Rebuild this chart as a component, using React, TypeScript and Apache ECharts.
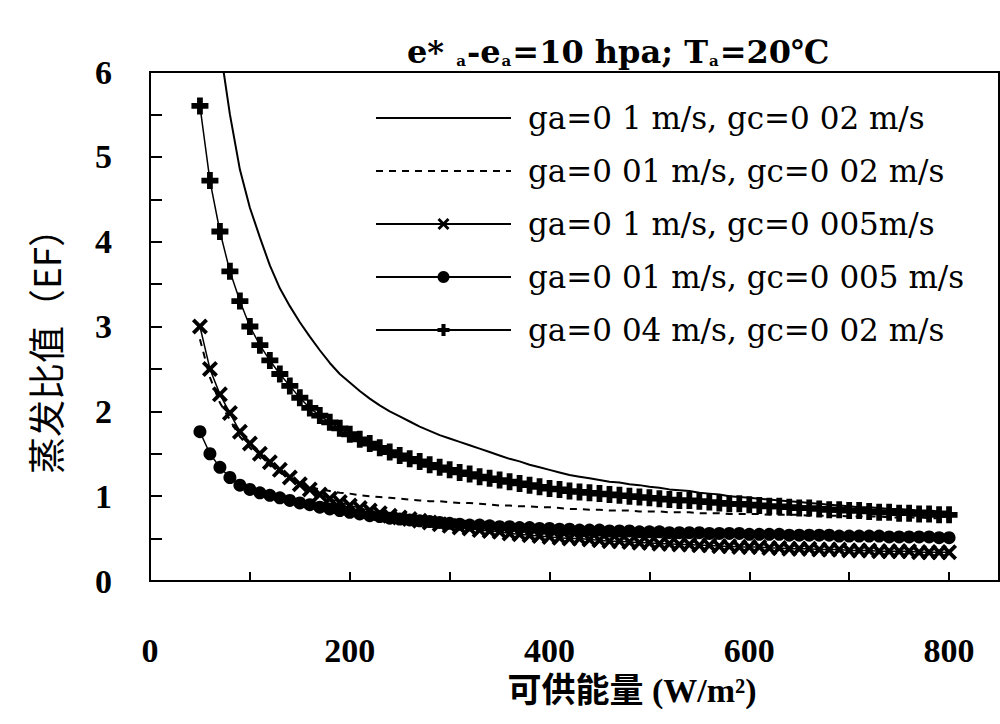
import React, { useEffect, useRef } from "react";
import * as echarts from "echarts";

// x positions (available energy, W/m2)
const xValues = [
  50, 60, 70, 80, 90, 100, 110, 120, 130, 140,
  150, 160, 170, 180, 190, 200, 210, 220, 230, 240,
  250, 260, 270, 280, 290, 300, 310, 320, 330, 340,
  350, 360, 370, 380, 390, 400, 410, 420, 430, 440,
  450, 460, 470, 480, 490, 500, 510, 520, 530, 540,
  550, 560, 570, 580, 590, 600, 610, 620, 630, 640,
  650, 660, 670, 680, 690, 700, 710, 720, 730, 740,
  750, 760, 770, 780, 790, 800,
];

// ga=0.1, gc=0.02 (solid)
const efSolid = [
  9.2, 7.4, 6.3, 5.5, 4.85, 4.4, 4.05, 3.72, 3.45, 3.24,
  3.05, 2.88, 2.72, 2.57, 2.44, 2.34, 2.24, 2.15, 2.07, 2.0,
  1.94, 1.88, 1.82, 1.77, 1.72, 1.68, 1.64, 1.6, 1.56, 1.52,
  1.48, 1.44, 1.41, 1.37, 1.34, 1.31, 1.28, 1.25, 1.23, 1.21,
  1.19, 1.17, 1.16, 1.14, 1.13, 1.11, 1.1, 1.08, 1.07, 1.06,
  1.04, 1.03, 1.02, 1.0, 0.99, 0.98, 0.97, 0.96, 0.95, 0.94,
  0.93, 0.92, 0.91, 0.9, 0.89, 0.88, 0.87, 0.87, 0.86, 0.85,
  0.85, 0.84, 0.83, 0.83, 0.82, 0.82,
];

// ga=0.01, gc=0.02 (dashed)
const efDashed = [
  2.85, 2.4, 2.1, 1.9, 1.7, 1.57, 1.45, 1.36, 1.28, 1.2,
  1.14, 1.11, 1.08, 1.06, 1.04, 1.03, 1.01, 1.0, 0.99, 0.98,
  0.97, 0.96, 0.95, 0.94, 0.94, 0.93, 0.92, 0.92, 0.91, 0.9,
  0.89, 0.89, 0.88, 0.88, 0.87, 0.87, 0.86, 0.85, 0.85, 0.84,
  0.84, 0.83, 0.83, 0.83, 0.82, 0.82, 0.82, 0.81, 0.81, 0.81,
  0.8, 0.8, 0.8, 0.79, 0.79, 0.79, 0.79, 0.78, 0.78, 0.78,
  0.78, 0.77, 0.77, 0.77, 0.77, 0.76, 0.76, 0.76, 0.76, 0.75,
  0.75, 0.75, 0.75, 0.74, 0.74, 0.74,
];

// ga=0.1, gc=0.005 (x markers)
const efCross = [
  3.0, 2.5, 2.2, 1.98, 1.76, 1.62, 1.5, 1.4, 1.31, 1.22,
  1.14, 1.08, 1.02, 0.97, 0.93, 0.89, 0.86, 0.83, 0.8, 0.77,
  0.75, 0.73, 0.71, 0.69, 0.67, 0.65, 0.63, 0.62, 0.6, 0.59,
  0.58, 0.56, 0.55, 0.54, 0.53, 0.52, 0.51, 0.5, 0.5, 0.49,
  0.48, 0.47, 0.47, 0.46, 0.45, 0.45, 0.44, 0.44, 0.43, 0.43,
  0.42, 0.42, 0.41, 0.41, 0.4, 0.4, 0.4, 0.39, 0.39, 0.38,
  0.38, 0.38, 0.37, 0.37, 0.37, 0.36, 0.36, 0.36, 0.35, 0.35,
  0.35, 0.35, 0.34, 0.34, 0.34, 0.34,
];

// ga=0.01, gc=0.005 (circles)
const efCircle = [
  1.76, 1.5, 1.34, 1.22, 1.13, 1.08, 1.04, 1.01, 0.98, 0.95,
  0.92, 0.9, 0.87, 0.85, 0.83, 0.81, 0.79, 0.77, 0.76, 0.74,
  0.73, 0.72, 0.71, 0.7, 0.69, 0.68, 0.67, 0.66, 0.66, 0.65,
  0.64, 0.64, 0.63, 0.63, 0.62, 0.62, 0.61, 0.61, 0.6, 0.6,
  0.6, 0.59, 0.59, 0.59, 0.58, 0.58, 0.58, 0.57, 0.57, 0.57,
  0.57, 0.56, 0.56, 0.56, 0.56, 0.55, 0.55, 0.55, 0.55, 0.54,
  0.54, 0.54, 0.54, 0.54, 0.53, 0.53, 0.53, 0.53, 0.53, 0.52,
  0.52, 0.52, 0.52, 0.52, 0.51, 0.51,
];

// ga=0.04, gc=0.02 (plus markers)
const efPlus = [
  5.6, 4.72, 4.12, 3.65, 3.3, 3.0, 2.78, 2.6, 2.44, 2.3,
  2.16, 2.04, 1.95, 1.87, 1.8, 1.73, 1.67, 1.62, 1.57, 1.52,
  1.48, 1.44, 1.41, 1.37, 1.34, 1.31, 1.28, 1.26, 1.23, 1.21,
  1.19, 1.17, 1.15, 1.13, 1.11, 1.09, 1.08, 1.06, 1.05, 1.04,
  1.03, 1.02, 1.01, 1.0, 0.99, 0.98, 0.97, 0.96, 0.95, 0.95,
  0.94, 0.93, 0.92, 0.91, 0.91, 0.9, 0.89, 0.88, 0.88, 0.87,
  0.86, 0.86, 0.85, 0.84, 0.84, 0.83, 0.83, 0.82, 0.81, 0.81,
  0.8, 0.8, 0.79, 0.79, 0.78, 0.78,
];

const seriesNames = [
  "ga=0 1 m/s, gc=0 02 m/s",
  "ga=0 01 m/s, gc=0 02 m/s",
  "ga=0 1 m/s, gc=0 005m/s",
  "ga=0 01 m/s, gc=0 005 m/s",
  "ga=0 04 m/s, gc=0 02 m/s",
];

const xTickLabels = [0, 200, 400, 600, 800];
const yTickLabels = [0, 1, 2, 3, 4, 5, 6];

const CROSS_PATH = "path://M0,1.7L1.7,0L5,3.3L8.3,0L10,1.7L6.7,5L10,8.3L8.3,10L5,6.7L1.7,10L0,8.3L3.3,5Z";
const PLUS_PATH = "path://M3.3,0H6.7V3.3H10V6.7H6.7V10H3.3V6.7H0V3.3H3.3Z";

const pairs = (ys: number[]) => xValues.map((x, i) => [x, ys[i]]);

export default function App() {
  const ref = useRef<HTMLDivElement>(null);

  useEffect(() => {
    document.body.style.margin = "0";
    if (!ref.current) return;
    const chart = echarts.init(ref.current, undefined, { renderer: "svg" });
    const serif = "'Liberation Serif', 'Times New Roman', serif";
    const option = {
      animation: false,
      backgroundColor: "#fff",
      title: {
        text: "{b|e* }{s|a}{b|-e}{s|a}{b|=10 hpa; T}{s|a}{b|=20℃}",
        left: 402,
        top: 21,
        textStyle: {
          rich: {
            b: {
              fontFamily: "'DejaVu Serif', serif",
              fontWeight: "bold",
              fontSize: 32,
              color: "#000",
              lineHeight: 42,
              verticalAlign: "bottom",
            },
            s: {
              fontFamily: "'DejaVu Serif', serif",
              fontWeight: "bold",
              fontSize: 15,
              color: "#000",
              lineHeight: 42,
              verticalAlign: "bottom",
              padding: [0, 1, 0, 1],
            },
          },
        },
      },
      grid: {
        left: 150,
        top: 72,
        right: 1,
        bottom: 143,
        show: true,
        borderColor: "#000",
        borderWidth: 2,
        backgroundColor: "transparent",
      },
      legend: {
        orient: "vertical",
        left: 370,
        top: 97,
        itemWidth: 135,
        itemHeight: 15,
        itemGap: 21,
        data: [
          { name: seriesNames[0], itemStyle: { opacity: 0 } },
          { name: seriesNames[1], itemStyle: { opacity: 0 } },
          { name: seriesNames[2] },
          { name: seriesNames[3] },
          { name: seriesNames[4] },
        ],
        textStyle: {
          fontFamily: "'DejaVu Serif', serif",
          fontSize: 31,
          color: "#000",
          lineHeight: 32,
          padding: [0, 0, 0, 12],
        },
      },
      xAxis: {
        type: "value",
        min: 0,
        max: 850,
        interval: 100,
        axisLine: { lineStyle: { color: "#000", width: 2 } },
        axisTick: { inside: true, length: 9, lineStyle: { color: "#000", width: 2 } },
        splitLine: { show: false },
        axisLabel: {
          margin: 52,
          color: "#000",
          fontFamily: serif,
          fontWeight: "bold",
          fontSize: 34,
          showMaxLabel: false,
          formatter: (v: number) => (xTickLabels.includes(v) ? String(v) : ""),
        },
      },
      yAxis: {
        type: "value",
        min: 0,
        max: 6,
        interval: 0.5,
        axisLine: { lineStyle: { color: "#000", width: 2 } },
        axisTick: { inside: true, length: 12, lineStyle: { color: "#000", width: 2 } },
        splitLine: { show: false },
        axisLabel: {
          margin: 38,
          color: "#000",
          fontFamily: serif,
          fontWeight: "bold",
          fontSize: 34,
          formatter: (v: number) => (yTickLabels.includes(v) ? String(v) : ""),
        },
      },
      graphic: [
        {
          type: "text",
          x: 45,
          y: 342,
          rotation: Math.PI / 2,
          style: {
            text: "蒸发比值（EF）",
            font: "37px 'Noto Sans CJK SC', sans-serif",
            fill: "#000",
            align: "center",
            verticalAlign: "middle",
          },
        },
        {
          type: "text",
          x: 632,
          y: 690,
          style: {
            text: "可供能量 (W/m²)",
            font: "bold 34px 'Liberation Serif', 'Noto Sans CJK SC', serif",
            fill: "#000",
            align: "center",
            verticalAlign: "middle",
          },
        },
      ],
      series: [
        {
          name: seriesNames[0],
          type: "line",
          data: pairs(efSolid),
          symbol: "none",
          itemStyle: { color: "#000" },
          lineStyle: { color: "#000", width: 2 },
          clip: true,
          z: 2,
        },
        {
          name: seriesNames[1],
          type: "line",
          data: pairs(efDashed),
          symbol: "none",
          itemStyle: { color: "#000" },
          lineStyle: { color: "#000", width: 2, type: [7, 6] },
          clip: true,
          z: 2,
        },
        {
          name: seriesNames[2],
          type: "line",
          data: pairs(efCross),
          symbol: CROSS_PATH,
          symbolSize: 16,
          itemStyle: { color: "#000" },
          lineStyle: { color: "#000", width: 1.5 },
          clip: true,
          z: 3,
        },
        {
          name: seriesNames[3],
          type: "line",
          data: pairs(efCircle),
          symbol: "circle",
          symbolSize: 13,
          itemStyle: { color: "#000" },
          lineStyle: { color: "#000", width: 1.5 },
          clip: true,
          z: 3,
        },
        {
          name: seriesNames[4],
          type: "line",
          data: pairs(efPlus),
          symbol: PLUS_PATH,
          symbolSize: 17,
          itemStyle: { color: "#000" },
          lineStyle: { color: "#000", width: 1.5 },
          clip: true,
          z: 3,
        },
      ],
    };
    chart.setOption(option as any);
    return () => chart.dispose();
  }, []);

  return <div ref={ref} style={{ width: 1000, height: 724 }} />;
}
